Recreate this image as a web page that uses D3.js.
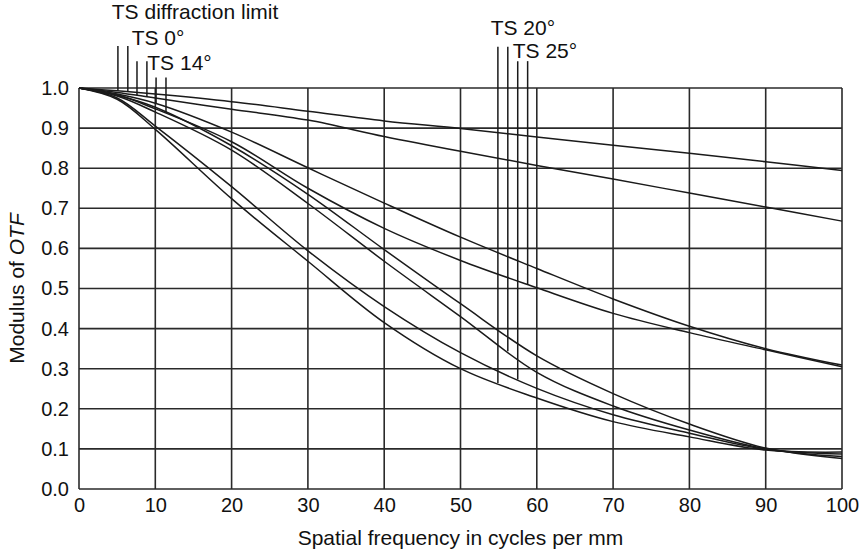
<!DOCTYPE html>
<html>
<head>
<meta charset="utf-8">
<script src="https://cdn.jsdelivr.net/npm/d3@7"></script>
<style>
  html, body { margin: 0; padding: 0; background: #fff; }
  svg { display: block; }
  text { font-family: "Liberation Sans", Arial, Helvetica, sans-serif; fill: #111; }
</style>
</head>
<body>
<svg id="chart" width="864" height="554"></svg>
<script>
// ---- data ----
const freq = [0, 5, 10, 20, 30, 40, 50, 60, 70, 80, 90, 100];
const diffLimit = [1, 0.993, 0.985, 0.966, 0.942, 0.918, 0.899, 0.878, 0.857, 0.837, 0.816, 0.794];
const ts0       = [1, 0.989, 0.975, 0.947, 0.920, 0.879, 0.842, 0.807, 0.773, 0.738, 0.703, 0.668];
const ts14a     = [1, 0.985, 0.962, 0.890, 0.801, 0.713, 0.628, 0.550, 0.474, 0.406, 0.350, 0.309];
const ts14b     = [1, 0.982, 0.952, 0.856, 0.735, 0.597, 0.462, 0.332, 0.238, 0.162, 0.102, 0.076];
const ts20a     = [1, 0.972, 0.897, 0.724, 0.568, 0.415, 0.300, 0.227, 0.168, 0.130, 0.097, 0.092];
const ts20b     = [1, 0.980, 0.940, 0.845, 0.712, 0.568, 0.430, 0.291, 0.207, 0.147, 0.100, 0.081];
const ts25a     = [1, 0.975, 0.905, 0.754, 0.594, 0.455, 0.340, 0.251, 0.185, 0.139, 0.099, 0.087];
const ts25b     = [1, 0.983, 0.948, 0.866, 0.750, 0.650, 0.570, 0.502, 0.438, 0.390, 0.347, 0.305];

const seriesNames = ["diffLimit", "ts0", "ts14a", "ts14b", "ts20a", "ts20b", "ts25a", "ts25b"];
const seriesValues = [diffLimit, ts0, ts14a, ts14b, ts20a, ts20b, ts25a, ts25b];

const xTicks = [0, 10, 20, 30, 40, 50, 60, 70, 80, 90, 100];
const yTicks = [0, 0.1, 0.2, 0.3, 0.4, 0.5, 0.6, 0.7, 0.8, 0.9, 1.0];

// leader lines: x position (cycles/mm), top (modulus units, above frame), target series index
const leaderX     = [5.1, 6.4, 7.6, 8.9, 10.1, 11.4, 54.9, 56.2, 57.5, 58.8];
const leaderTop   = [1.105, 1.105, 1.067, 1.067, 1.026, 1.026, 1.103, 1.103, 1.067, 1.067];
const leaderCurve = [0, 0, 1, 1, 2, 3, 4, 5, 6, 7];

// labels
const labelText = ["TS diffraction limit", "TS 0°", "TS 14°", "TS 20°", "TS 25°"];
const labelX    = [4.3, 6.9, 8.95, 53.95, 56.85];
const labelY    = [1.172, 1.108, 1.045, 1.132, 1.075];

// ---- drawing ----
const svg = d3.select("#chart");
const x = d3.scaleLinear().domain([0, 100]).range([79, 842]);
const y = d3.scaleLinear().domain([0, 1]).range([489, 88]);

const ink = "#1a1a1a";
const font = '"Liberation Sans", Arial, sans-serif';

// grid
svg.append("g").selectAll("line").data(xTicks).join("line")
  .attr("x1", d => x(d)).attr("x2", d => x(d))
  .attr("y1", y(0)).attr("y2", y(1))
  .attr("stroke", "#2a2a2a").attr("stroke-width", 1.6);
svg.append("g").selectAll("line").data(yTicks).join("line")
  .attr("x1", x(0)).attr("x2", x(100))
  .attr("y1", d => y(d)).attr("y2", d => y(d))
  .attr("stroke", "#2a2a2a").attr("stroke-width", 1.6);

// axes (labels only)
const xAxis = d3.axisBottom(x).tickValues(xTicks).tickSize(0).tickPadding(9).tickFormat(d3.format("d"));
const gx = svg.append("g").attr("transform", `translate(0,${y(0)})`).call(xAxis);
gx.select(".domain").remove();
gx.selectAll("text").attr("font-size", 20).attr("fill", "#111").style("font-family", font);

const yAxis = d3.axisLeft(y).tickValues(yTicks).tickSize(0).tickPadding(10).tickFormat(d3.format(".1f"));
const gy = svg.append("g").attr("transform", `translate(${x(0)},0)`).call(yAxis);
gy.select(".domain").remove();
gy.selectAll("text").attr("font-size", 20).attr("fill", "#111").style("font-family", font);

// axis titles
svg.append("text")
  .attr("x", (x(0) + x(100)) / 2).attr("y", 545)
  .attr("text-anchor", "middle").attr("font-size", 21)
  .text("Spatial frequency in cycles per mm");

const yt = svg.append("text")
  .attr("transform", `translate(24,${(y(0) + y(1)) / 2}) rotate(-90)`)
  .attr("text-anchor", "middle").attr("font-size", 21);
yt.append("tspan").text("Modulus of ");
yt.append("tspan").attr("font-style", "italic").text("OTF");

// curves
const line = d3.line()
  .x(d => x(d[0])).y(d => y(d[1]))
  .curve(d3.curveCatmullRom.alpha(0.5));

svg.append("g").selectAll("path").data(seriesValues).join("path")
  .attr("d", vals => line(freq.map((f, i) => [f, vals[i]])))
  .attr("fill", "none").attr("stroke", ink).attr("stroke-width", 1.5);

// leader lines
function interp(vals, xv) {
  const i = d3.bisectRight(freq, xv) - 1;
  const j = Math.min(i + 1, freq.length - 1);
  if (i === j) return vals[i];
  const t = (xv - freq[i]) / (freq[j] - freq[i]);
  return vals[i] + t * (vals[j] - vals[i]);
}
svg.append("g").selectAll("line").data(leaderX).join("line")
  .attr("x1", d => x(d)).attr("x2", d => x(d))
  .attr("y1", (d, i) => y(leaderTop[i]))
  .attr("y2", (d, i) => y(interp(seriesValues[leaderCurve[i]], d)))
  .attr("stroke", ink).attr("stroke-width", 1.5);

// labels
svg.append("g").selectAll("text").data(labelText).join("text")
  .attr("x", (d, i) => x(labelX[i])).attr("y", (d, i) => y(labelY[i]))
  .attr("font-size", 21)
  .text(d => d);
</script>
</body>
</html>
